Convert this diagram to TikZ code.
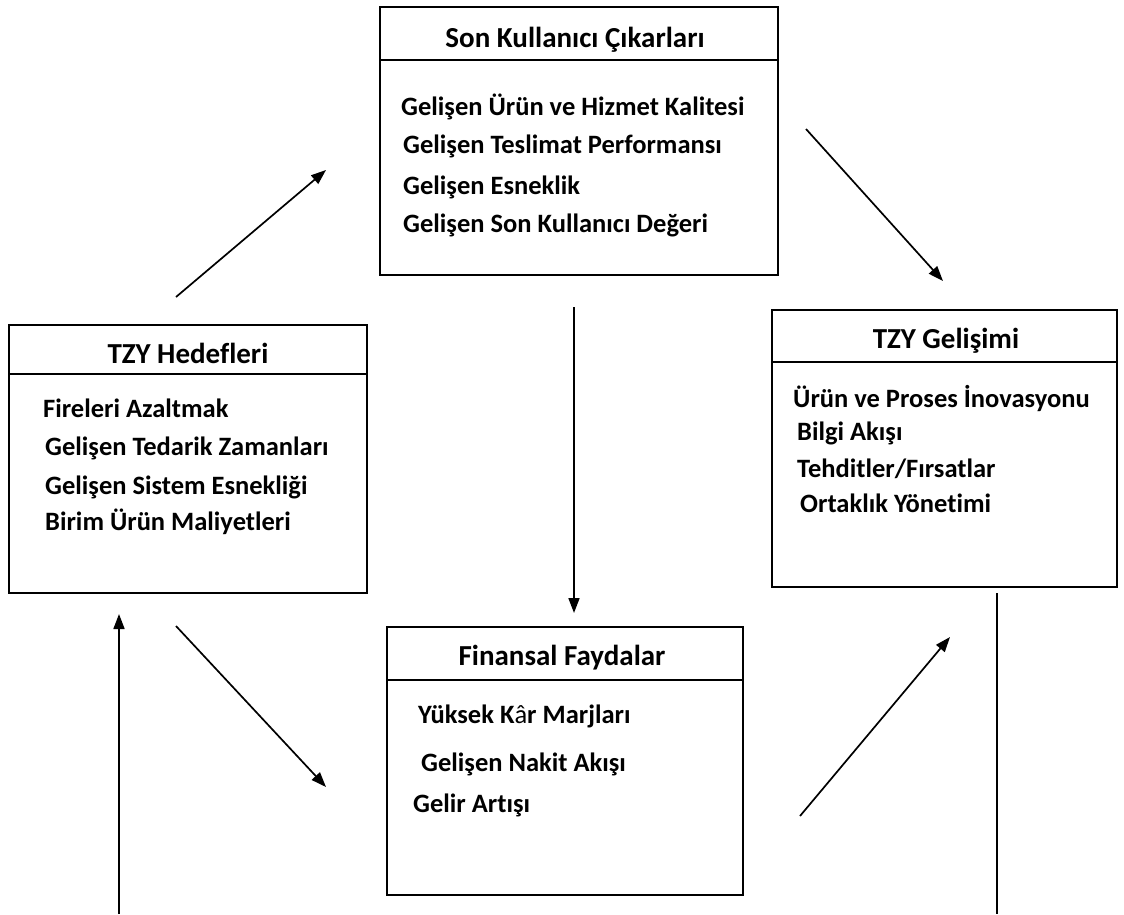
\documentclass[tikz,border=0pt]{standalone}
\usepackage{fontspec}
\setmainfont{Carlito}[Ligatures=NoCommon]
\usetikzlibrary{arrows.meta}
\begin{document}
\begin{tikzpicture}[x=1pt,y=-1pt,
  box/.style={draw, line width=1.8pt, inner sep=0pt},
  rule/.style={line width=1.8pt},
  title/.style={font=\bfseries\fontsize{29}{33}\selectfont, anchor=base, inner sep=0pt},
  item/.style={font=\bfseries\fontsize{26.5}{30}\selectfont, anchor=base west, inner sep=0pt},
  flow/.style={line width=1.7pt, -{Triangle[length=15pt,width=11pt]}},
  plain/.style={line width=1.7pt}]
\useasboundingbox (0,0) rectangle (1124,914);

% --- Son Kullanici Cikarlari (top)
\node[box, minimum width=398pt, minimum height=268pt] (son) at (579,141) {};
\draw[rule] (son.west |- 0,60) -- (son.east |- 0,60);
\node[title] (sonT) at (575,47) {Son Kullanıcı Çıkarları};
\node[item] (son1) at (401,115) {Gelişen Ürün ve Hizmet Kalitesi};
\node[item] (son2) at (403,153) {Gelişen Teslimat Performansı};
\node[item] (son3) at (403,194) {Gelişen Esneklik};
\node[item] (son4) at (403,232) {Gelişen Son Kullanıcı Değeri};

% --- TZY Hedefleri (left)
\node[box, minimum width=358pt, minimum height=268pt] (hed) at (188,459) {};
\draw[rule] (hed.west |- 0,374) -- (hed.east |- 0,374);
\node[title] (hedT) at (188,363) {TZY Hedefleri};
\node[item] (hed1) at (43,417) {Fireleri Azaltmak};
\node[item] (hed2) at (45,455) {Gelişen Tedarik Zamanları};
\node[item] (hed3) at (45,494) {Gelişen Sistem Esnekliği};
\node[item] (hed4) at (45,530) {Birim Ürün Maliyetleri};

% --- TZY Gelisimi (right)
\node[box, minimum width=345pt, minimum height=277pt] (gel) at (944.5,448.5) {};
\draw[rule] (gel.west |- 0,362) -- (gel.east |- 0,362);
\node[title] (gelT) at (946,348) {TZY Gelişimi};
\node[item] (gel1) at (793,407) {Ürün ve Proses İnovasyonu};
\node[item] (gel2) at (797,440) {Bilgi Akışı};
\node[item] (gel3) at (797,477) {Tehditler/Fırsatlar};
\node[item] (gel4) at (800,512) {Ortaklık Yönetimi};

% --- Finansal Faydalar (bottom)
\node[box, minimum width=356pt, minimum height=268pt] (fin) at (565,761) {};
\draw[rule] (fin.west |- 0,680) -- (fin.east |- 0,680);
\node[title] (finT) at (562,665) {Finansal Faydalar};
\node[item] (fin1) at (418,723) {Yüksek K{\mdseries â}r Marjları};
\node[item] (fin2) at (421,771) {Gelişen Nakit Akışı};
\node[item] (fin3) at (413,812) {Gelir Artışı};

% --- connector end points
\coordinate (a1s) at (176,297);  \coordinate (a1e) at (326,170);
\coordinate (a2s) at (806,129);  \coordinate (a2e) at (943,281);
\coordinate (a3s) at (574,307);  \coordinate (a3e) at (574,613);
\coordinate (a4s) at (176,626);  \coordinate (a4e) at (326,787);
\coordinate (a5s) at (800,816);  \coordinate (a5e) at (950,637);
\coordinate (a6s) at (119,914);  \coordinate (a6e) at (119,614);
\coordinate (l1s) at (997,593);  \coordinate (l1e) at (997,914);

\draw[flow] (a1s) -- (a1e);
\draw[flow] (a2s) -- (a2e);
\draw[flow] (a3s) -- (a3e);
\draw[flow] (a4s) -- (a4e);
\draw[flow] (a5s) -- (a5e);
\draw[flow] (a6s) -- (a6e);
\draw[plain] (l1s) -- (l1e);
\end{tikzpicture}
\end{document}
